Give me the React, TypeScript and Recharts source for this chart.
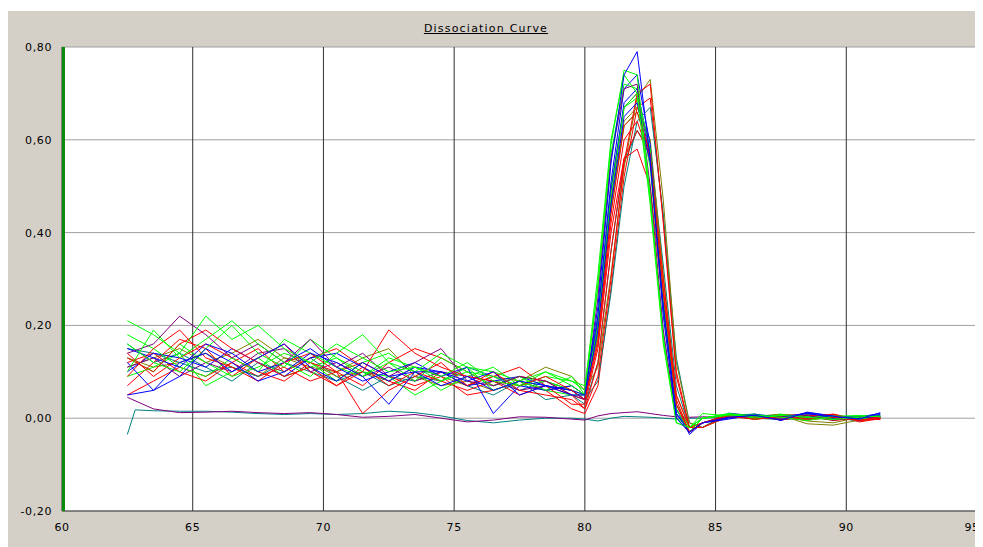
import { CartesianGrid, Line, LineChart, XAxis, YAxis } from "recharts";

// temperature grid shared by the melt curves (deg C)
const temps = [
  62.5, 63.5, 64.5, 65.5, 66.5, 67.5, 68.5, 69.5, 70.5, 71.5, 72.5, 73.5, 74.5, 75.5, 76.5, 77.5, 78.5, 79.5,
  80, 80.5, 81, 81.5, 82, 82.5, 83, 83.5, 84, 84.5,
  85.5, 86.5, 87.5, 88.5, 89.5, 90.5, 91.3,
];
// the flat no-template control has one extra early point
const tempsCtrl = [62.5, 62.8, ...temps.slice(1)];

const red1 = [0.13, 0.10, 0.16, 0.19, 0.15, 0.12, 0.09, 0.11, 0.07, 0.10, 0.19, 0.14, 0.11, 0.09, 0.08, 0.07, 0.09, 0.06, 0.04, 0.17, 0.44, 0.63, 0.66, 0.57, 0.27, 0.03, -0.03, -0.01, 0.004, -0.002, 0.003, -0.004, 0.002, -0.005, 0.003];
const green1 = [0.21, 0.18, 0.14, 0.22, 0.17, 0.20, 0.15, 0.12, 0.16, 0.13, 0.10, 0.11, 0.09, 0.12, 0.08, 0.07, 0.10, 0.08, 0.06, 0.31, 0.60, 0.74, 0.70, 0.46, 0.16, -0.01, -0.02, 0.0, 0.008, 0.003, 0.006, 0.002, -0.003, 0.002, 0.005];
const blue1 = [0.05, 0.06, 0.12, 0.14, 0.10, 0.13, 0.16, 0.11, 0.08, 0.12, 0.09, 0.10, 0.07, 0.09, 0.06, 0.08, 0.07, 0.05, 0.05, 0.24, 0.55, 0.74, 0.79, 0.56, 0.22, 0.0, -0.03, -0.01, 0.002, 0.006, -0.004, 0.012, 0.004, -0.002, 0.012];
const red2 = [0.09, 0.15, 0.19, 0.13, 0.11, 0.08, 0.12, 0.14, 0.10, 0.01, 0.06, 0.09, 0.12, 0.07, 0.10, 0.06, 0.05, 0.04, 0.02, 0.09, 0.30, 0.55, 0.70, 0.72, 0.42, 0.09, -0.02, -0.02, 0.006, 0.004, -0.003, 0.005, 0.008, -0.006, 0.0];
const green2 = [0.16, 0.12, 0.10, 0.15, 0.20, 0.14, 0.11, 0.17, 0.13, 0.09, 0.12, 0.08, 0.13, 0.10, 0.07, 0.09, 0.06, 0.09, 0.05, 0.20, 0.48, 0.67, 0.70, 0.58, 0.26, 0.02, -0.03, 0.0, 0.01, 0.0, 0.008, 0.004, -0.002, 0.003, 0.004];
const blue2 = [0.12, 0.06, 0.09, 0.15, 0.12, 0.08, 0.10, 0.14, 0.12, 0.09, 0.03, 0.10, 0.10, 0.08, 0.10, 0.05, 0.07, 0.06, 0.04, 0.19, 0.46, 0.65, 0.68, 0.55, 0.24, 0.01, -0.03, -0.01, -0.002, 0.008, 0.003, 0.01, 0.002, 0.0, 0.006];
const purple1 = [0.14, 0.16, 0.22, 0.18, 0.13, 0.16, 0.12, 0.17, 0.11, 0.14, 0.09, 0.12, 0.15, 0.08, 0.07, 0.09, 0.08, 0.05, 0.04, 0.26, 0.56, 0.71, 0.72, 0.50, 0.19, 0.0, -0.03, -0.01, 0.003, 0.005, 0.0, 0.006, -0.004, 0.002, 0.001];
const red3 = [0.07, 0.12, 0.17, 0.15, 0.09, 0.13, 0.16, 0.10, 0.07, 0.11, 0.08, 0.06, 0.10, 0.07, 0.09, 0.11, 0.07, 0.05, 0.02, 0.12, 0.36, 0.56, 0.62, 0.57, 0.30, 0.05, -0.02, -0.01, 0.007, -0.003, 0.005, 0.002, 0.009, -0.003, -0.002];
const green3 = [0.10, 0.19, 0.13, 0.17, 0.21, 0.16, 0.12, 0.09, 0.14, 0.18, 0.12, 0.10, 0.14, 0.11, 0.06, 0.08, 0.10, 0.07, 0.05, 0.29, 0.59, 0.75, 0.74, 0.48, 0.17, -0.01, -0.02, 0.01, 0.005, 0.007, 0.002, -0.005, 0.004, 0.006, 0.003];
const olive1 = [0.11, 0.13, 0.15, 0.12, 0.14, 0.17, 0.13, 0.11, 0.10, 0.13, 0.15, 0.09, 0.07, 0.08, 0.06, 0.08, 0.11, 0.09, 0.06, 0.11, 0.31, 0.54, 0.69, 0.73, 0.47, 0.12, -0.01, -0.02, 0.004, 0.002, 0.006, -0.012, -0.015, -0.004, 0.002];
const blue3 = [0.15, 0.13, 0.11, 0.16, 0.14, 0.10, 0.12, 0.15, 0.11, 0.08, 0.10, 0.12, 0.09, 0.11, 0.01, 0.07, 0.06, 0.07, 0.05, 0.21, 0.49, 0.68, 0.71, 0.57, 0.25, 0.02, -0.035, -0.01, 0.003, 0.009, -0.005, 0.013, 0.005, 0.001, 0.008];
const red4 = [0.12, 0.14, 0.10, 0.08, 0.12, 0.15, 0.10, 0.13, 0.15, 0.11, 0.07, 0.10, 0.08, 0.06, 0.08, 0.05, 0.07, 0.03, 0.03, 0.15, 0.40, 0.56, 0.58, 0.50, 0.24, 0.03, -0.03, -0.01, 0.002, 0.005, 0.007, -0.002, 0.004, -0.004, 0.0];
const green4 = [0.13, 0.10, 0.16, 0.12, 0.09, 0.11, 0.14, 0.12, 0.08, 0.12, 0.14, 0.10, 0.06, 0.09, 0.11, 0.07, 0.08, 0.06, 0.05, 0.22, 0.50, 0.67, 0.69, 0.54, 0.23, 0.01, -0.03, 0.0, 0.009, -0.002, 0.004, 0.007, 0.0, 0.004, 0.006];
const teal1 = [0.15, 0.14, 0.12, 0.10, 0.11, 0.09, 0.12, 0.10, 0.08, 0.10, 0.07, 0.09, 0.08, 0.11, 0.09, 0.06, 0.08, 0.06, 0.04, 0.08, 0.27, 0.50, 0.64, 0.67, 0.44, 0.13, -0.01, -0.02, 0.011, 0.004, -0.002, 0.003, 0.001, -0.006, 0.002];
const red5 = [0.14, 0.09, 0.13, 0.16, 0.13, 0.10, 0.08, 0.12, 0.10, 0.07, 0.12, 0.15, 0.13, 0.10, 0.07, 0.09, 0.08, 0.05, 0.04, 0.16, 0.42, 0.60, 0.64, 0.56, 0.28, 0.04, -0.03, -0.01, 0.005, 0.001, 0.008, 0.006, -0.005, 0.0, -0.003];
const green5 = [0.18, 0.15, 0.11, 0.09, 0.13, 0.10, 0.17, 0.14, 0.11, 0.09, 0.13, 0.11, 0.08, 0.10, 0.09, 0.07, 0.09, 0.08, 0.07, 0.28, 0.57, 0.72, 0.71, 0.47, 0.18, 0.0, -0.02, 0.0, 0.006, 0.009, 0.001, 0.003, 0.006, -0.002, 0.004];
const blue4 = [0.10, 0.14, 0.13, 0.11, 0.15, 0.12, 0.09, 0.13, 0.14, 0.11, 0.08, 0.11, 0.10, 0.07, 0.08, 0.09, 0.07, 0.06, 0.05, 0.22, 0.51, 0.71, 0.74, 0.59, 0.25, 0.01, -0.03, -0.01, 0.0, 0.004, 0.002, 0.011, -0.001, 0.003, 0.01];
const purple2 = [0.11, 0.13, 0.09, 0.12, 0.10, 0.14, 0.15, 0.10, 0.12, 0.09, 0.11, 0.08, 0.10, 0.09, 0.08, 0.06, 0.07, 0.06, 0.04, 0.20, 0.47, 0.67, 0.70, 0.56, 0.24, 0.02, -0.03, -0.01, 0.004, 0.0, 0.003, 0.008, 0.002, -0.003, 0.002];
const green6 = [0.09, 0.11, 0.14, 0.07, 0.10, 0.13, 0.09, 0.11, 0.13, 0.10, 0.09, 0.05, 0.08, 0.11, 0.10, 0.08, 0.06, 0.05, 0.05, 0.18, 0.45, 0.63, 0.66, 0.57, 0.27, 0.03, -0.02, 0.0, 0.007, 0.003, 0.009, -0.003, 0.001, 0.005, 0.002];
const red6 = [0.05, 0.08, 0.11, 0.09, 0.12, 0.09, 0.11, 0.08, 0.10, 0.12, 0.09, 0.07, 0.09, 0.05, 0.06, 0.08, 0.06, 0.02, 0.01, 0.07, 0.28, 0.52, 0.67, 0.69, 0.43, 0.10, -0.02, -0.02, 0.003, 0.006, -0.004, 0.004, 0.007, -0.008, -0.001];
const olive2 = [0.13, 0.11, 0.12, 0.14, 0.11, 0.09, 0.13, 0.12, 0.09, 0.10, 0.08, 0.11, 0.09, 0.07, 0.09, 0.08, 0.06, 0.07, 0.05, 0.18, 0.45, 0.64, 0.67, 0.60, 0.31, 0.05, -0.02, -0.01, 0.008, 0.001, 0.004, -0.006, -0.01, 0.002, 0.003];
const teal2 = [0.16, 0.12, 0.14, 0.11, 0.08, 0.12, 0.10, 0.13, 0.09, 0.06, 0.09, 0.08, 0.10, 0.07, 0.05, 0.08, 0.04, 0.05, 0.03, 0.12, 0.36, 0.55, 0.62, 0.58, 0.33, 0.07, -0.02, -0.02, 0.01, 0.006, 0.001, 0.002, -0.004, 0.001, 0.003];
const purpleFlat = [0.045, 0.02, 0.012, 0.013, 0.015, 0.012, 0.01, 0.012, 0.008, 0.002, 0.004, 0.008, 0.0, -0.008, -0.004, 0.003, 0.002, -0.002, -0.004, 0.005, 0.01, 0.012, 0.014, 0.01, 0.006, 0.003, 0.002, 0.003, 0.002, 0.001, 0.0, -0.002, 0.001, 0.0, 0.002];
const tealFlat = [-0.035, 0.018, 0.016, 0.015, 0.015, 0.013, 0.01, 0.008, 0.01, 0.008, 0.01, 0.015, 0.012, 0.005, -0.005, -0.01, -0.004, 0.0, 0.0, -0.002, -0.006, 0.0, 0.004, 0.003, 0.002, 0.0, -0.002, 0.0, 0.0, 0.002, 0.0, -0.003, 0.0, 0.001, 0.0];

const xTicks = [60, 65, 70, 75, 80, 85, 90, 95];
const yTicks = [-0.2, 0, 0.2, 0.4, 0.6, 0.8];

const RED = "#ff0000";
const GREEN = "#00ff00";
const BLUE = "#0000ff";
const PURPLE = "#800080";
const OLIVE = "#808000";
const TEAL = "#008080";

const curves = [
  { id: "tf", color: TEAL, xs: tempsCtrl, ys: tealFlat },
  { id: "pf", color: PURPLE, xs: temps, ys: purpleFlat },
  { id: "t2", color: TEAL, xs: temps, ys: teal2 },
  { id: "o2", color: OLIVE, xs: temps, ys: olive2 },
  { id: "r6", color: RED, xs: temps, ys: red6 },
  { id: "t1", color: TEAL, xs: temps, ys: teal1 },
  { id: "o1", color: OLIVE, xs: temps, ys: olive1 },
  { id: "r3", color: RED, xs: temps, ys: red3 },
  { id: "g6", color: GREEN, xs: temps, ys: green6 },
  { id: "p2", color: PURPLE, xs: temps, ys: purple2 },
  { id: "r4", color: RED, xs: temps, ys: red4 },
  { id: "g4", color: GREEN, xs: temps, ys: green4 },
  { id: "b4", color: BLUE, xs: temps, ys: blue4 },
  { id: "r5", color: RED, xs: temps, ys: red5 },
  { id: "g5", color: GREEN, xs: temps, ys: green5 },
  { id: "b3", color: BLUE, xs: temps, ys: blue3 },
  { id: "r2", color: RED, xs: temps, ys: red2 },
  { id: "g2", color: GREEN, xs: temps, ys: green2 },
  { id: "p1", color: PURPLE, xs: temps, ys: purple1 },
  { id: "b2", color: BLUE, xs: temps, ys: blue2 },
  { id: "r1", color: RED, xs: temps, ys: red1 },
  { id: "g3", color: GREEN, xs: temps, ys: green3 },
  { id: "g1", color: GREEN, xs: temps, ys: green1 },
  { id: "b1", color: BLUE, xs: temps, ys: blue1 },
];

const comma = (v: number) => v.toFixed(2).replace(".", ",");
const tickStyle = { fontFamily: "DejaVu Sans", fontSize: 11, fill: "#000", letterSpacing: 0.6 };

// x tick: the last label is nudged left so it stays inside the window
function XTick(props: any) {
  const { x, y, payload } = props;
  const last = payload.value === xTicks[xTicks.length - 1];
  return (
    <text x={last ? x - 5 : x} y={y} dy="0.71em" textAnchor="middle" {...tickStyle}>
      {payload.value}
    </text>
  );
}

export default function App() {
  return (
    <div style={{ marginTop: 3, position: "relative", width: 975, height: 536, background: "#d4d0c8" }}>
      <div
        style={{
          position: "absolute",
          top: 11,
          left: 0,
          width: 956,
          textAlign: "center",
          fontFamily: "DejaVu Sans",
          fontSize: 11,
          letterSpacing: 1.2,
          textDecoration: "underline",
          color: "#000",
        }}
      >
        Dissociation Curve
      </div>
      <LineChart width={975} height={536} margin={{ top: 36, right: 6, bottom: 6, left: 0 }}>
        <CartesianGrid vertical={false} stroke="#a0a0a0" fill="#ffffff" />
        <CartesianGrid horizontal={false} stroke="#303030" />
        <XAxis
          type="number"
          dataKey="x"
          domain={[60, 95]}
          ticks={xTicks}
          interval={0}
          allowDataOverflow
          height={30}
          tickSize={0}
          tickMargin={12}
          axisLine={{ stroke: "#404040" }}
          tick={<XTick />}
        />
        <YAxis
          type="number"
          domain={[-0.2, 0.8]}
          ticks={yTicks}
          width={54}
          tickSize={0}
          tickMargin={10}
          tickFormatter={comma}
          axisLine={{ stroke: "#0b8a0b", strokeWidth: 3, transform: "translate(1.5,0)" }}
          tick={tickStyle}
        />
        {curves.map((c) => (
          <Line
            key={c.id}
            data={c.xs.map((x, i) => ({ x, y: c.ys[i] }))}
            dataKey="y"
            stroke={c.color}
            strokeWidth={1}
            dot={false}
            activeDot={false}
            isAnimationActive={false}
          />
        ))}
      </LineChart>
    </div>
  );
}
